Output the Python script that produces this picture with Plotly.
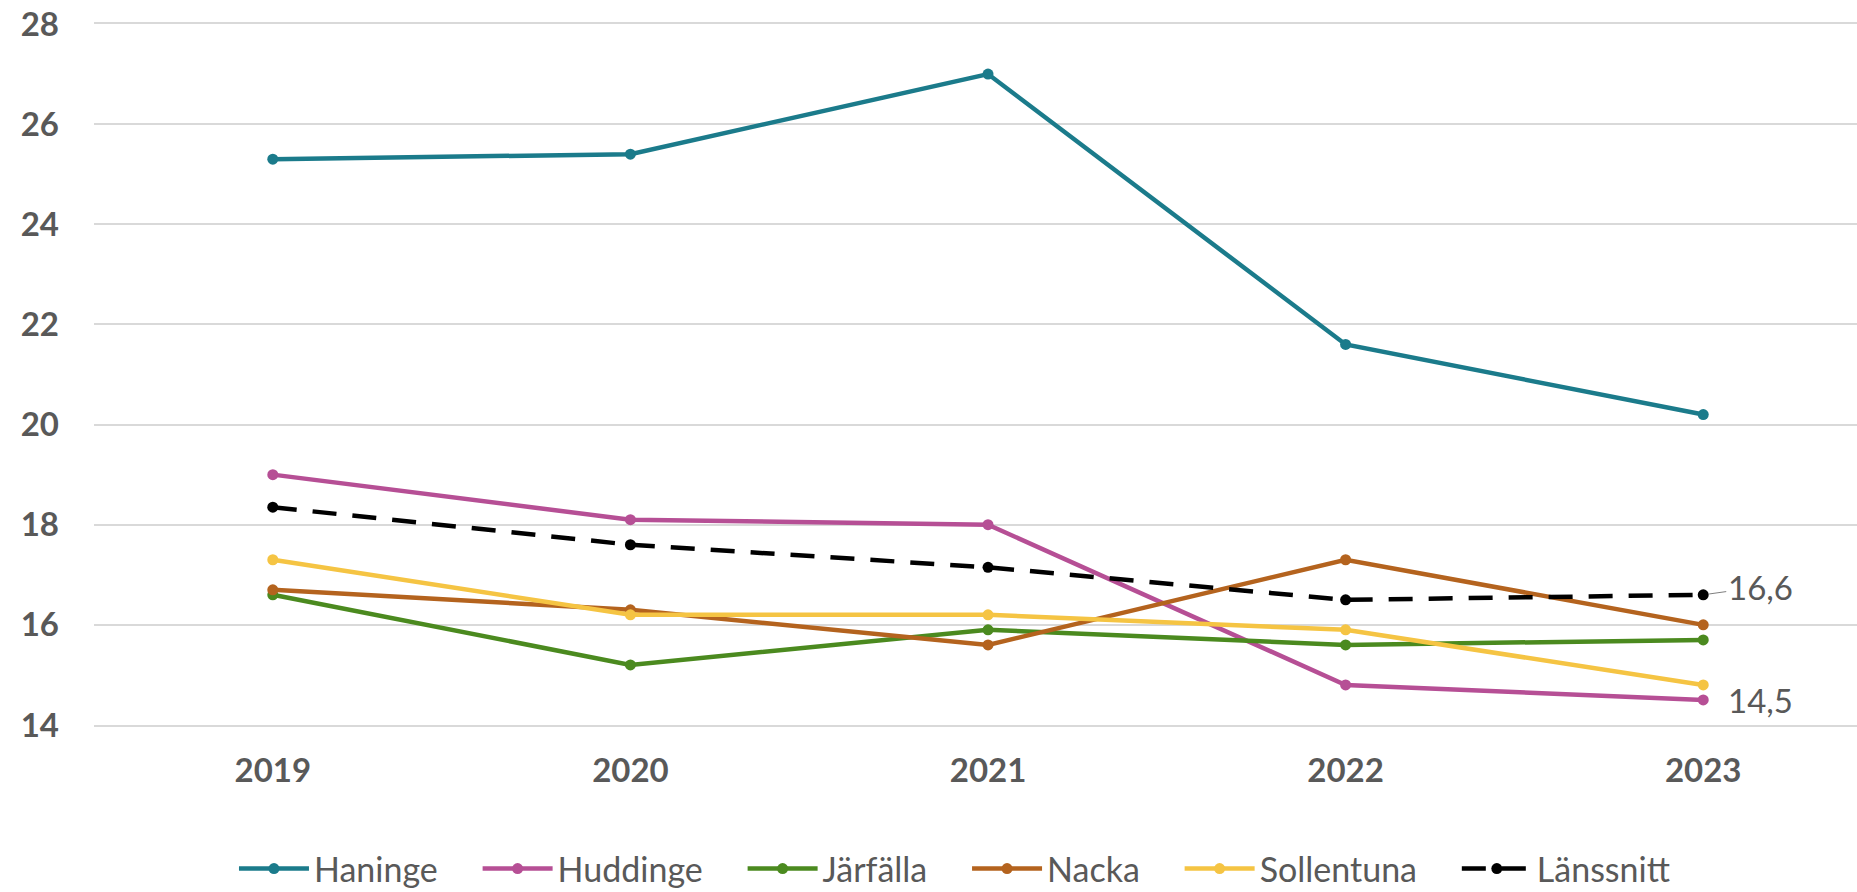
import plotly.graph_objects as go

years = ["2019", "2020", "2021", "2022", "2023"]

haninge = [25.3, 25.4, 27.0, 21.6, 20.2]
huddinge = [19.0, 18.1, 18.0, 14.8, 14.5]
jarfalla = [16.6, 15.2, 15.9, 15.6, 15.7]
nacka = [16.7, 16.3, 15.6, 17.3, 16.0]
sollentuna = [17.3, 16.2, 16.2, 15.9, 14.8]
lanssnitt = [18.35, 17.6, 17.15, 16.5, 16.6]

series = [
    ("Haninge", haninge, "#1B7B8B", "solid"),
    ("Huddinge", huddinge, "#B64F95", "solid"),
    ("Järfälla", jarfalla, "#4B8A1F", "solid"),
    ("Nacka", nacka, "#B4631E", "solid"),
    ("Sollentuna", sollentuna, "#F5C443", "solid"),
    ("Länssnitt", lanssnitt, "#000000", "24px,16px"),
]

grey = "#595959"
font = "Lato"
pad = "\u00a0" * 4  # extra room between legend entries

fig = go.Figure()
for name, vals, color, dash in series:
    fig.add_trace(go.Scatter(
        x=years, y=vals, name=name + pad, mode="lines+markers",
        line=dict(color=color, width=4.5, dash=dash),
        marker=dict(color=color, size=11, symbol="circle"),
    ))

# data labels at the last point (category index of 2023)
last = len(years) - 1
fig.add_annotation(x=last, y=lanssnitt[-1], text=str(lanssnitt[-1]).replace(".", ","),
                   showarrow=True, arrowhead=0, arrowwidth=1, arrowcolor="#7f7f7f",
                   ax=57, ay=-8, standoff=6,
                   font=dict(family=font, size=33, color=grey))
fig.add_annotation(x=last, y=huddinge[-1], text=str(huddinge[-1]).replace(".", ","),
                   showarrow=False, xanchor="left", xshift=23,
                   font=dict(family=font, size=33, color=grey))

fig.update_layout(
    width=1857, height=892,
    margin=dict(l=94, r=0, t=24, b=167, autoexpand=False),
    plot_bgcolor="white", paper_bgcolor="white",
    font=dict(family=font, color=grey),
    showlegend=True,
    legend=dict(orientation="h", x=0.498, xanchor="center", y=-0.2054, yanchor="middle",
                font=dict(family=font, size=34, color=grey), itemwidth=70,
                traceorder="normal"),
)
fig.update_xaxes(type="category", range=[-0.5, 4.43], showgrid=False,
                 showline=True, linecolor="#D9D9D9", linewidth=2, mirror=True,
                 ticks="", ticklabelstandoff=15,
                 tickfont=dict(family=font, size=33, color=grey, weight="bold"))
fig.update_yaxes(range=[14, 28], dtick=2, showgrid=True, gridcolor="#D9D9D9", gridwidth=2,
                 zeroline=False, showline=False, ticks="", ticklabelstandoff=34,
                 ticklabeloverflow="allow",
                 tickfont=dict(family=font, size=33, color=grey, weight="bold"))

# drop the default 8px body margin so the figure fills the window
fig.write_html("out.html", config={"displayModeBar": False},
               post_script="document.body.style.margin='0';")
